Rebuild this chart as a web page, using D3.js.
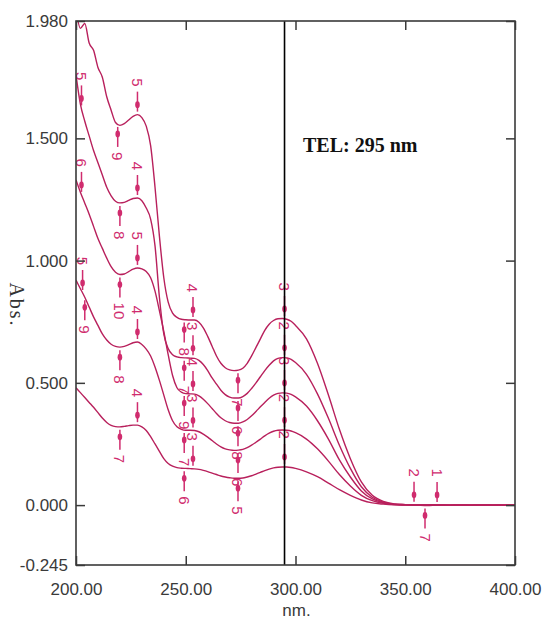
<!DOCTYPE html>
<html><head><meta charset="utf-8">
<script src="https://cdn.jsdelivr.net/npm/d3@7"></script>
<style>body{margin:0;background:#fff}</style>
</head><body><svg id="c" width="546" height="621"></svg>
<script>
const wavelengths = [200,202,204,206,208,210,212,214,216,218,220,222,224,226,228,230,232,234,236,238,240,242,244,246,248,250,252,254,256,258,260,262,264,266,268,270,272,274,276,278,280,282,284,286,288,290,292,294,296,298,300,305,310,315,320,325,330,335,340,345,350,355,360,365,370,375,380,385,390,395,400];

const spectrum1 = [2.03,1.95,1.97,1.89,1.86,1.79,1.75,1.67,1.615,1.565,
 1.553,1.56,1.575,1.59,1.597,1.585,1.55,1.47,1.30,1.10,
 0.93,0.83,0.785,0.768,0.76,0.758,0.757,0.757,0.748,0.725,
 0.69,0.65,0.61,0.58,0.562,0.553,0.550,0.552,0.56,0.58,
 0.61,0.645,0.68,0.715,0.74,0.755,0.762,0.763,0.76,0.752,
 0.735,
 0.68,0.58,0.45,0.31,0.19,0.095,0.04,0.015,0.005,0.002,
 0.001,-0.002,0.001,0.000,0.001,-0.001,0.001,0.000,-0.001,0.000];

const spectrum2 = [1.76,1.64,1.57,1.51,1.45,1.40,1.35,1.30,1.265,1.243,
 1.236,1.238,1.246,1.254,1.256,1.245,1.215,1.17,1.06,0.85,
 0.70,0.64,0.615,0.606,0.603,0.602,0.601,0.600,0.592,0.575,
 0.55,0.52,0.495,0.47,0.452,0.442,0.438,0.438,0.444,0.457,
 0.477,0.50,0.525,0.55,0.572,0.59,0.60,0.603,0.602,0.596,
 0.583,
 0.535,0.455,0.355,0.245,0.15,0.075,0.032,0.012,0.004,0.002,
 0.000,0.001,-0.001,0.001,0.000,0.001,-0.001,0.000,0.001,0.000];

const spectrum3 = [1.33,1.28,1.235,1.19,1.14,1.09,1.05,1.01,0.975,0.952,
 0.943,0.945,0.955,0.965,0.97,0.966,0.955,0.93,0.875,0.795,
 0.71,0.615,0.53,0.48,0.462,0.456,0.455,0.454,0.447,0.433,
 0.415,0.395,0.375,0.357,0.345,0.338,0.335,0.335,0.34,0.35,
 0.365,0.383,0.402,0.42,0.437,0.45,0.457,0.459,0.458,0.453,
 0.443,
 0.405,0.345,0.27,0.185,0.115,0.058,0.025,0.01,0.003,0.001,
 0.001,0.000,0.001,-0.001,0.000,0.000,0.001,-0.001,0.000,0.000];

const spectrum4 = [0.92,0.885,0.85,0.81,0.77,0.735,0.70,0.675,0.658,0.649,
 0.646,0.649,0.656,0.664,0.667,0.657,0.638,0.61,0.565,0.51,
 0.45,0.39,0.345,0.32,0.31,0.306,0.306,0.305,0.30,0.29,
 0.278,0.264,0.25,0.238,0.23,0.226,0.224,0.225,0.228,0.235,
 0.245,0.257,0.27,0.283,0.294,0.302,0.306,0.307,0.306,0.303,
 0.296,
 0.27,0.23,0.18,0.125,0.078,0.04,0.018,0.007,0.002,0.001,
 0.000,0.001,0.000,-0.001,0.001,0.000,0.000,0.001,0.000,0.000];

const spectrum5 = [0.48,0.46,0.44,0.42,0.40,0.378,0.356,0.338,0.326,0.321,
 0.32,0.322,0.325,0.327,0.327,0.32,0.305,0.28,0.25,0.22,
 0.19,0.17,0.159,0.153,0.151,0.150,0.149,0.148,0.146,0.142,
 0.137,0.131,0.125,0.119,0.115,0.112,0.11,0.11,0.111,0.115,
 0.12,0.127,0.134,0.141,0.147,0.152,0.155,0.156,0.156,0.154,
 0.15,
 0.136,0.116,0.09,0.063,0.04,0.021,0.009,0.004,0.001,0.000,
 0.000,0.000,0.001,0.000,-0.001,0.000,0.001,0.000,0.000,0.000];

const spectra = [spectrum1, spectrum2, spectrum3, spectrum4, spectrum5];

const yTicks = [1.980, 1.500, 1.000, 0.500, 0.000, -0.245];
const xTicks = [200, 250, 300, 350, 400];
const cursorNm = 295;
const annotation = "TEL: 295 nm";
const xTitle = "nm.";
const yTitle = "Abs.";

// peak / valley picks: spectrum index, wavelength, side of label, label text
const picks = [
 {s:1, nm:202.5, side:"above", label:"5"},
 {s:2, nm:202.5, side:"above", label:"6"},
 {s:3, nm:203, side:"above", label:"5"},
 {s:3, nm:204, side:"below", label:"9"},
 {s:0, nm:219, side:"below", label:"9"},
 {s:1, nm:220, side:"below", label:"8"},
 {s:2, nm:220, side:"below", label:"10"},
 {s:3, nm:220, side:"below", label:"8"},
 {s:4, nm:220, side:"below", label:"7"},
 {s:0, nm:228, side:"above", label:"5"},
 {s:1, nm:228, side:"above", label:"4"},
 {s:2, nm:228, side:"above", label:"5"},
 {s:3, nm:228, side:"above", label:"4"},
 {s:4, nm:228, side:"above", label:"4"},
 {s:0, nm:249.3, side:"below", label:"8"},
 {s:1, nm:249.3, side:"below", label:"7"},
 {s:2, nm:249.3, side:"below", label:"9"},
 {s:3, nm:249.3, side:"below", label:"7"},
 {s:4, nm:249.3, side:"below", label:"6"},
 {s:0, nm:253.3, side:"above", label:"4"},
 {s:1, nm:253.3, side:"above", label:"3"},
 {s:2, nm:253.3, side:"above", label:"4"},
 {s:3, nm:253.3, side:"above", label:"3"},
 {s:4, nm:253.3, side:"above", label:"3"},
 {s:0, nm:273.8, side:"below", label:"7"},
 {s:1, nm:273.8, side:"below", label:"6"},
 {s:2, nm:273.8, side:"below", label:"8"},
 {s:3, nm:273.8, side:"below", label:"6"},
 {s:4, nm:273.8, side:"below", label:"5"},
 {s:0, nm:295, side:"above", label:"3"},
 {s:1, nm:295, side:"above", label:"2"},
 {s:2, nm:295, side:"above", label:"3"},
 {s:3, nm:295, side:"above", label:"2"},
 {s:4, nm:295, side:"above", label:"2"},
 {s:0, nm:354, side:"above", label:"2"},
 {s:0, nm:364.5, side:"above", label:"1"},
 {s:0, nm:359, side:"below", label:"7"}
];

const svg = d3.select('#c');
const m = {l:76, r:515, t:21, b:565};
const x = d3.scaleLinear().domain([200,400]).range([m.l,m.r]);
const y = d3.scaleLinear().domain([-0.245,1.98]).range([m.b,m.t]);
const curveColor = "#b8205c";
const pickColor = "#d02c6e";
const axisColor = "#3a3a3a";

svg.append('defs').append('clipPath').attr('id','clip')
  .append('rect').attr('x',m.l).attr('y',m.t).attr('width',m.r-m.l).attr('height',m.b-m.t);

const plot = svg.append('g').attr('clip-path','url(#clip)');

const line = d3.line()
  .x((d,i)=>x(wavelengths[i]))
  .y(d=>y(d))
  .curve(d3.curveMonotoneX);

plot.selectAll('path.spec').data(spectra).join('path')
  .attr('class','spec')
  .attr('d', line)
  .attr('fill','none')
  .attr('stroke',curveColor)
  .attr('stroke-width',1.4);

function valueAt(arr, nm){
  let i = d3.bisectRight(wavelengths, nm) - 1;
  i = Math.max(0, Math.min(wavelengths.length-2, i));
  const t = (nm - wavelengths[i])/(wavelengths[i+1]-wavelengths[i]);
  return arr[i] + (arr[i+1]-arr[i])*t;
}

const pg = plot.append('g');
picks.forEach(p=>{
  const xm = x(p.nm);
  const yc = y(valueAt(spectra[p.s], p.nm));
  const dir = p.side === "below" ? 1 : -1;
  pg.append('line').attr('x1',xm).attr('x2',xm)
    .attr('y1',yc+dir*3).attr('y2',yc+dir*23)
    .attr('stroke',pickColor).attr('stroke-width',1.5);
  pg.append('ellipse').attr('cx',xm).attr('cy',yc+dir*10)
    .attr('rx',2.3).attr('ry',3.4).attr('fill',pickColor);
  pg.append('text')
    .attr('transform',`translate(${xm},${yc+dir*28}) rotate(90)`)
    .attr('text-anchor', dir>0 ? 'start' : 'end')
    .attr('dominant-baseline','central')
    .attr('font-family','"Liberation Sans", Arial, sans-serif')
    .attr('font-size',15)
    .attr('fill',pickColor)
    .text(p.label);
});

// cursor line
svg.append('line')
  .attr('x1',x(cursorNm)).attr('x2',x(cursorNm))
  .attr('y1',m.t).attr('y2',m.b)
  .attr('stroke','#000').attr('stroke-width',1.6);

// axes
function styleAxis(g){
  g.select('.domain').remove();
  g.selectAll('.tick line').attr('stroke',axisColor).attr('stroke-width',1.5);
  g.selectAll('.tick text')
    .attr('font-family','"Liberation Sans", Arial, sans-serif')
    .attr('font-size',17)
    .attr('fill',axisColor);
}
svg.append('g').attr('transform',`translate(${m.l},0)`)
  .call(d3.axisLeft(y).tickValues(yTicks).tickSizeInner(-9).tickSizeOuter(0).tickPadding(8).tickFormat(d=>d.toFixed(3)))
  .call(styleAxis);
svg.append('g').attr('transform',`translate(0,${m.b})`)
  .call(d3.axisBottom(x).tickValues(xTicks).tickSizeInner(-9).tickSizeOuter(0).tickPadding(18).tickFormat(d=>d.toFixed(2)))
  .call(styleAxis);
svg.append('g').attr('transform',`translate(0,${m.t})`)
  .call(d3.axisTop(x).tickValues(xTicks).tickSizeInner(-9).tickSizeOuter(0).tickFormat(''))
  .call(styleAxis);
svg.append('g').attr('transform',`translate(${m.r},0)`)
  .call(d3.axisRight(y).tickValues(yTicks).tickSizeInner(-9).tickSizeOuter(0).tickFormat(''))
  .call(styleAxis);

svg.append('rect').attr('x',m.l).attr('y',m.t).attr('width',m.r-m.l).attr('height',m.b-m.t)
  .attr('fill','none').attr('stroke',axisColor).attr('stroke-width',1.6);

// titles
svg.append('text').attr('x',(m.l+m.r)/2 + 1).attr('y',616)
  .attr('text-anchor','middle')
  .attr('font-family','"Liberation Sans", Arial, sans-serif')
  .attr('font-size',17).attr('fill',axisColor).text(xTitle);
svg.append('text').attr('transform','translate(17,305) rotate(90)')
  .attr('text-anchor','middle').attr('dominant-baseline','central')
  .attr('font-family','"Liberation Serif", "Times New Roman", serif')
  .attr('font-size',20).attr('letter-spacing',2).attr('fill','#333').text(yTitle);
svg.append('text').attr('x',303).attr('y',152)
  .attr('font-family','"Liberation Serif", "Times New Roman", serif')
  .attr('font-weight','bold').attr('font-size',20).attr('fill','#111').text(annotation);
</script></body></html>
